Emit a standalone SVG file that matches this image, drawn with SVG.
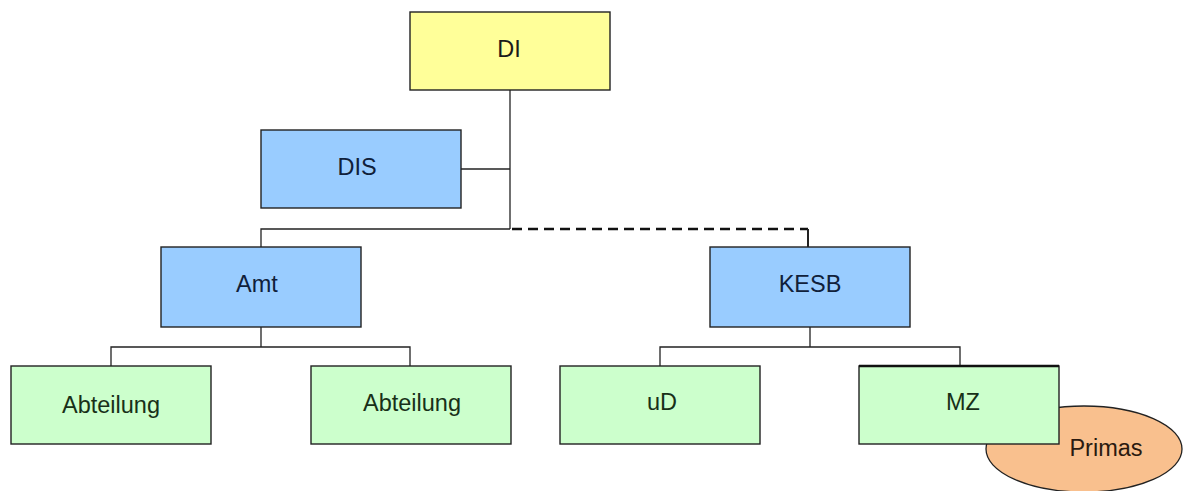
<svg xmlns="http://www.w3.org/2000/svg" width="1183" height="491" viewBox="0 0 1183 491">
<style>
.box{stroke:#222;stroke-width:1.4}
.y{fill:#ffff99}
.b{fill:#99ccff}
.g{fill:#ccffcc}
.t{font-family:"Liberation Sans",Arial,sans-serif;font-size:23.5px;fill:#1a1a1a;text-anchor:middle}
.tb{fill:#10203a}
.tg{fill:#183018}
.c{stroke:#222;stroke-width:1.3;fill:none}
.d{stroke:#111;stroke-width:2.6;fill:none;stroke-dasharray:10 6}
</style>
<rect width="1183" height="491" fill="#ffffff"/>
<g id="connectors">
<path class="c" d="M510 90V229"/>
<path class="c" d="M461 169H510"/>
<path class="c" d="M510 229H261V247"/>
<path class="d" d="M512 229H808"/>
<path class="c" d="M808 229V247" style="stroke-width:2"/>
<path class="c" d="M261 327V347M111 366V347H410V366"/>
<path class="c" d="M810 327V347M660 366V347H960V366"/>
</g>
<g id="DI"><rect class="box y" x="410" y="12" width="200" height="78"/><text class="t" x="509" y="57">DI</text></g>
<g id="DIS"><rect class="box b" x="261" y="130" width="200" height="78"/><text class="t tb" x="357" y="175">DIS</text></g>
<g id="Amt"><rect class="box b" x="161" y="247" width="200" height="80"/><text class="t tb" x="257" y="292">Amt</text></g>
<g id="KESB"><rect class="box b" x="710" y="247" width="200" height="80"/><text class="t tb" x="810" y="292">KESB</text></g>
<g id="Abteilung1"><rect class="box g" x="11" y="366" width="200" height="78"/><text class="t tg" x="111" y="413">Abteilung</text></g>
<g id="Abteilung2"><rect class="box g" x="311" y="366" width="200" height="78"/><text class="t tg" x="412" y="411">Abteilung</text></g>
<g id="uD"><rect class="box g" x="560" y="366" width="200" height="78"/><text class="t tg" x="662" y="410">uD</text></g>
<g id="Primas"><ellipse cx="1084" cy="449" rx="98" ry="43" fill="#f9c08e" stroke="#222" stroke-width="1.3"/><text class="t" x="1106" y="456" style="fill:#2a1a10">Primas</text></g>
<g id="MZ"><rect class="box g" x="859" y="366" width="200" height="78"/><path d="M859 366H1059" stroke="#111" stroke-width="2.6"/><text class="t tg" x="963" y="410">MZ</text></g>
</svg>
